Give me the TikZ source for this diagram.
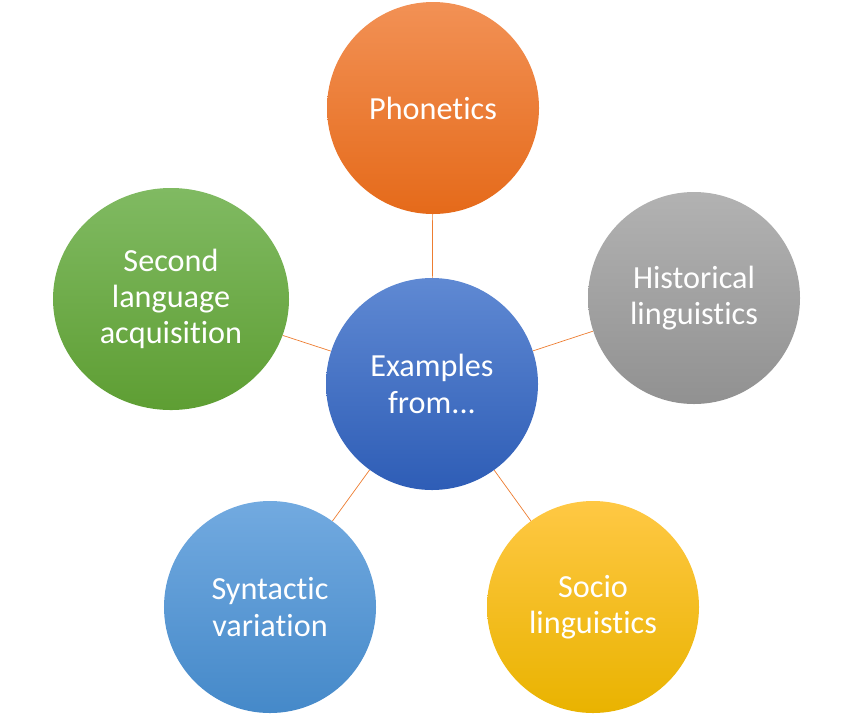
\documentclass[tikz,border=0pt]{standalone}
\usepackage{fontspec}
\setmainfont{Carlito}[Ligatures=CommonOff]
\usetikzlibrary{backgrounds,shapes.geometric}
\definecolor{hubtop}{HTML}{5F89D3}
\definecolor{hubbot}{HTML}{2E5DB6}
\definecolor{phontop}{HTML}{F29155}
\definecolor{phonbot}{HTML}{E56A1A}
\definecolor{histtop}{HTML}{B2B2B2}
\definecolor{histbot}{HTML}{919191}
\definecolor{sociotop}{HTML}{FFC844}
\definecolor{sociobot}{HTML}{E9B300}
\definecolor{syntop}{HTML}{72AAE0}
\definecolor{synbot}{HTML}{4589C9}
\definecolor{slatop}{HTML}{80BA62}
\definecolor{slabot}{HTML}{5E9E33}
\definecolor{spoke}{HTML}{ED7D31}
\tikzset{
  % bubblor
  bub/.style={circle,inner sep=0pt,minimum size=6.36cm,align=center,
              text=white,font=\fontsize{27.5}{31}\selectfont},
  hub/.style={bub,top color=hubtop,bottom color=hubbot},
  phon/.style={bub,top color=phontop,bottom color=phonbot},
  hist/.style={bub,top color=histtop,bottom color=histbot},
  socio/.style={bub,top color=sociotop,bottom color=sociobot},
  syn/.style={bub,top color=syntop,bottom color=synbot},
  sla/.style={bub,ellipse,minimum width=7.08cm,minimum height=6.66cm,
              top color=slatop,bottom color=slabot},
  sp/.style={draw=spoke,line width=0.6pt},
}
\begin{document}
\begin{tikzpicture}[x=0.03cm,y=-0.03cm]
  \useasboundingbox (0,0) rectangle (849,714);
  \node[hub] (ex) at (432,384) {Examples\\from...};
  \node[phon] (ph) at (433,108) {Phonetics};
  \node[hist] (hi) at (694,298) {Historical\\linguistics};
  \node[socio] (so) at (593,607) {Socio\\linguistics};
  \node[syn] (sy) at (270,607) {Syntactic\\variation};
  \node[sla] (sl) at (171,299) {Second\\language\\acquisition};
  \begin{scope}[on background layer]
  \draw[sp] (ex) -- (ph);
  \draw[sp] (ex) -- (hi);
  \draw[sp] (ex) -- (so);
  \draw[sp] (ex) -- (sy);
  \draw[sp] (ex) -- (sl);
  \end{scope}
\end{tikzpicture}
\end{document}
